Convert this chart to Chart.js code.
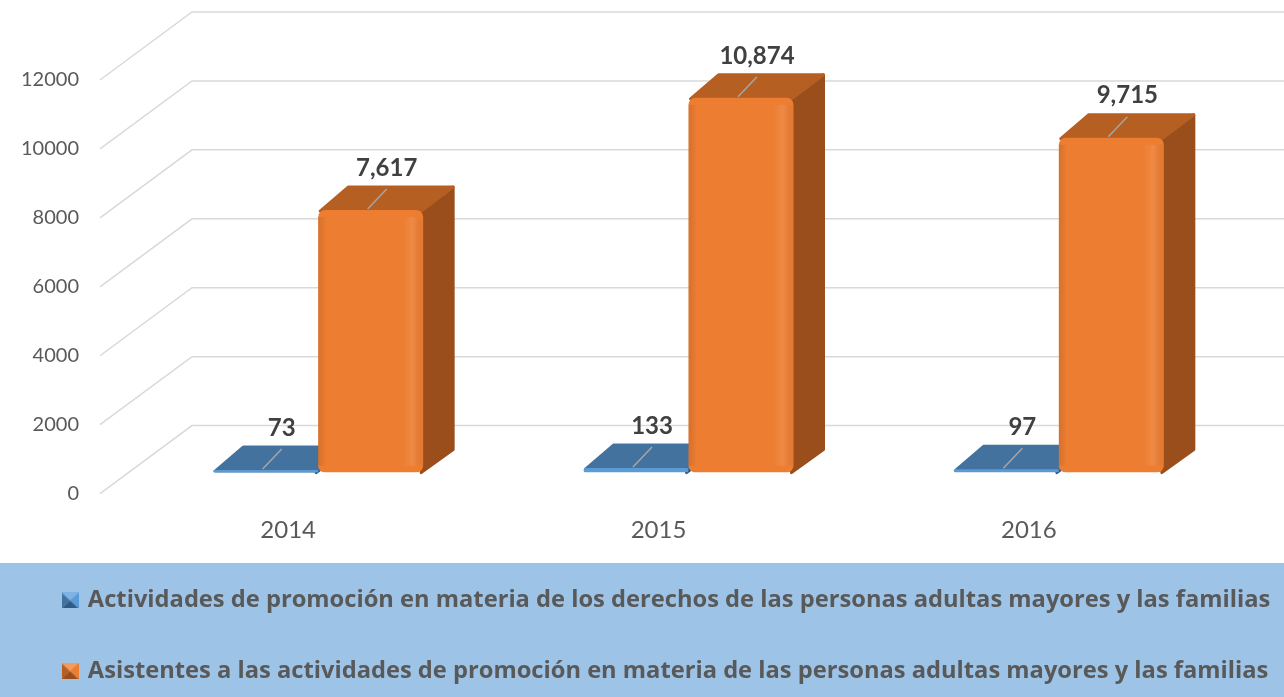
<!DOCTYPE html>
<html>
<head>
<meta charset="utf-8">
<script src="https://cdn.jsdelivr.net/npm/chart.js@4"></script>
<style>
  body { margin: 0; background: #ffffff; }
</style>
</head>
<body>
<canvas id="chart" width="1284" height="697"></canvas>
<script>
const years = ['2014', '2015', '2016'];
const actividades = [73, 133, 97];
const asistentes = [7617, 10874, 9715];
const yTicks = [0, 2000, 4000, 6000, 8000, 10000, 12000];
const seriesNames = [
    'Actividades de promoción en materia de los derechos de las personas adultas mayores y las familias',
    'Asistentes a las actividades de promoción en materia de las personas adultas mayores y las familias'
];

// colours of the boxes: front, top, side, light
const blue = { front: '#5b9bd5', top: '#44729f', side: '#2f5a86', light: '#7fb3e3' };
const orange = { front: '#ed7d31', top: '#b65f22', side: '#9a4e1c', light: '#f79a55' };

// depth of a box
const DX = 30;
const DY = -23;

Chart.defaults.font.family = 'Lato';

// little bevelled squares for the legend
function makeIcon(c) {
    const w = 17, h = 16;
    const cv = document.createElement('canvas');
    cv.width = w;
    cv.height = h;
    const g = cv.getContext('2d');
    const tri = (pts, col) => {
        g.fillStyle = col;
        g.beginPath();
        g.moveTo(pts[0], pts[1]); g.lineTo(pts[2], pts[3]); g.lineTo(w / 2, h / 2);
        g.closePath();
        g.fill();
    };
    tri([0, 0, w, 0], c.light);
    tri([w, 0, w, h], c.front);
    tri([w, h, 0, h], c.side);
    tri([0, h, 0, 0], c.top);
    return cv;
}
const legendIcons = [makeIcon(blue), makeIcon(orange)];

function poly(ctx, pts, fill) {
    ctx.fillStyle = fill;
    ctx.strokeStyle = fill;
    ctx.beginPath();
    ctx.moveTo(pts[0][0], pts[0][1]);
    for (let p of pts.slice(1)) ctx.lineTo(p[0], p[1]);
    ctx.closePath();
    ctx.fill();
    ctx.stroke();
}

const fake3d = {
    id: 'fake3d',
    beforeDraw(chart) {
        const ctx = chart.ctx;
        //light blue band behind the legend
        ctx.save();
        ctx.fillStyle = '#9dc3e6';
        ctx.fillRect(0, 563, chart.width, chart.height - 563);
        ctx.restore();
    },
    beforeDatasetsDraw(chart) {
        const { ctx, chartArea, scales } = chart;
        const left = chartArea.left - 5;
        ctx.save();
        //side wall and back wall lines
        ctx.strokeStyle = '#d9d9d9';
        ctx.lineWidth = 1.5;
        for (let v of yTicks) {
            const py = scales.y.getPixelForValue(v);
            ctx.beginPath();
            ctx.moveTo(left - 28, py + 21);
            ctx.lineTo(left + 64, py - 47);
            ctx.lineTo(chart.width, py - 47);
            ctx.stroke();
        }
        //top and side faces, the front face is the chart.js bar
        ctx.lineJoin = 'round';
        ctx.lineWidth = 3;
        chart.data.datasets.forEach((ds, i) => {
            const c = i === 0 ? blue : orange;
            chart.getDatasetMeta(i).data.forEach(bar => {
                const l = bar.x - bar.width / 2;
                const r = bar.x + bar.width / 2;
                poly(ctx, [[r - 2, bar.y], [r + DX, bar.y + DY], [r + DX, bar.base + DY], [r - 2, bar.base]], c.side);
                poly(ctx, [[l + 2, bar.y + 1], [l + DX, bar.y + DY], [r + DX, bar.y + DY], [r - 2, bar.y + 1]], c.top);
            });
        });
        ctx.restore();
    },
    afterDatasetsDraw(chart) {
        const ctx = chart.ctx;
        ctx.save();
        //a bit of shading on the orange fronts
        chart.getDatasetMeta(1).data.forEach(bar => {
            const l = bar.x - bar.width / 2;
            const grad = ctx.createLinearGradient(l, 0, l + bar.width, 0);
            grad.addColorStop(0, 'rgba(0,0,0,0.10)');
            grad.addColorStop(0.08, 'rgba(0,0,0,0)');
            grad.addColorStop(0.8, 'rgba(255,255,255,0)');
            grad.addColorStop(0.9, 'rgba(255,255,255,0.10)');
            grad.addColorStop(1, 'rgba(0,0,0,0.03)');
            ctx.fillStyle = grad;
            ctx.fillRect(l, bar.y + 7, bar.width, bar.base - bar.y - 14);
        });
        chart.data.datasets.forEach((ds, i) => {
            chart.getDatasetMeta(i).data.forEach((bar, j) => {
                //leader line
                ctx.strokeStyle = '#a6a6a6';
                ctx.lineWidth = 1.5;
                ctx.beginPath();
                ctx.moveTo(bar.x - 3, bar.y - 1);
                ctx.lineTo(bar.x + 16, bar.y - 21);
                ctx.stroke();
                //value
                ctx.fillStyle = '#404040';
                ctx.font = 'bold 24px Lato';
                ctx.textAlign = 'center';
                ctx.textBaseline = 'middle';
                ctx.fillText(ds.data[j].toLocaleString('en-US'), bar.x + 16, bar.y - 42);
            });
        });
        ctx.restore();
    }
};

new Chart(document.getElementById('chart'), {
    type: 'bar',
    data: {
        labels: years,
        datasets: [{
            label: seriesNames[0],
            data: actividades,
            backgroundColor: blue.front,
            borderRadius: 4,
            borderSkipped: false
        },
        {
            label: seriesNames[1],
            data: asistentes,
            backgroundColor: orange.front,
            borderRadius: 7,
            borderSkipped: false
        }]
    },
    options: {
        responsive: false,
        animation: false,
        categoryPercentage: 0.567,
        barPercentage: 1,
        layout: { padding: { top: 59, right: 0, bottom: 4, left: 17 } },
        scales: {
            x: {
                grid: { display: false, drawTicks: false },
                border: { display: false },
                ticks: { color: '#595959', font: { size: 24 }, padding: 43, labelOffset: -30 },
                afterFit(scale) {
                    scale.height = 69;
                    scale.paddingLeft = 0;
                    scale.paddingRight = 0;
                }
            },
            y: {
                min: 0,
                max: 12000,
                grid: { display: false, drawTicks: false },
                border: { display: false },
                ticks: {
                    stepSize: 2000,
                    color: '#595959',
                    font: { size: 20 },
                    padding: 54,
                    labelOffset: 21,
                    callback: v => String(v)
                },
                afterFit(scale) {
                    scale.width = 116;
                    scale.paddingTop = 0;
                    scale.paddingBottom = 0;
                }
            },
            //empty axis, only keeps room on the right for the back wall
            spacer: {
                position: 'right',
                grid: { display: false, drawTicks: false },
                border: { display: false },
                ticks: { display: false },
                afterFit(scale) {
                    scale.width = 40;
                    scale.paddingTop = 0;
                    scale.paddingBottom = 0;
                }
            }
        },
        plugins: {
            tooltip: { enabled: false },
            legend: {
                position: 'bottom',
                align: 'start',
                labels: {
                    usePointStyle: true,
                    boxWidth: 12,
                    boxHeight: 16,
                    padding: 47,
                    color: '#595959',
                    font: { family: 'Open Sans', size: 23.7, weight: 'bold' },
                    generateLabels(chart) {
                        const items = Chart.defaults.plugins.legend.labels.generateLabels(chart);
                        items.forEach((it, i) => { it.pointStyle = legendIcons[i]; });
                        return items;
                    }
                }
            }
        }
    },
    plugins: [fake3d]
});
</script>
</body>
</html>
